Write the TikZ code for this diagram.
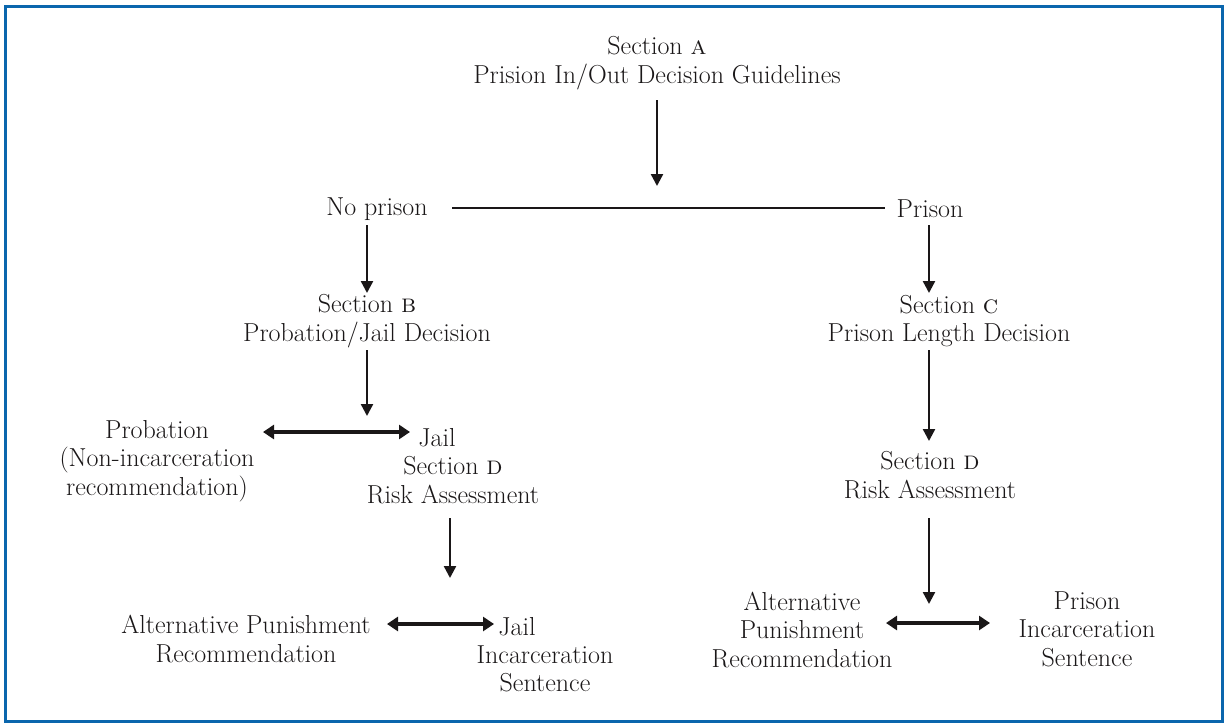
\documentclass[tikz,border=0pt]{standalone}
\usepackage{fontspec}
\usetikzlibrary{arrows.meta}
\definecolor{frameblue}{HTML}{0A66AD}
\definecolor{ink}{HTML}{1A1718}
\tikzset{
  lbl/.style={align=center, inner sep=0pt, text=ink, font=\fontsize{26}{28.5}\selectfont},
  down/.style={draw=ink, line width=2.4pt, -{Triangle[width=12pt,length=12pt]}},
  both/.style={draw=ink, line width=3.8pt, {Triangle[width=14pt,length=11pt]}-{Triangle[width=14pt,length=11pt]}},
  thin/.style={draw=ink, line width=1.3pt}
}
\begin{document}
\begin{tikzpicture}[x=1pt,y=-1pt]
\useasboundingbox (0,0) rectangle (1225,724);
\draw[frameblue, line width=3pt] (5.5,6.5) rectangle (1222.5,721.5);

% top
\node[lbl] (secA) at (657,63) {Section \textsc{a}\\Prision In/Out Decision Guidelines};
\coordinate (aTop) at (657,100);
\coordinate (aTip) at (657,186);
\draw[down] (aTop) -- (aTip);

\node[lbl] (noprison) at (377,209) {No prison};
\node[lbl] (prison) at (930,209) {Prison};
\coordinate (hL) at (452,208);
\coordinate (hR) at (885,208);
\draw[thin] (hL) -- (hR);

% left branch
\node[lbl] (secB) at (367,321) {Section \textsc{b}\\Probation/Jail Decision};
\coordinate (l1a) at (367,225);
\coordinate (l1b) at (367,293);
\draw[down] (l1a) -- (l1b);
\coordinate (l2a) at (367,350);
\coordinate (l2b) at (367,416);
\draw[down] (l2a) -- (l2b);

\node[lbl] (prob) at (157,461) {Probation\\(Non-incarceration\\recommendation)};
\node[lbl] (jail1) at (437,438) {Jail};
\node[lbl] (secDl) at (453,480) {Section \textsc{d}\\Risk Assessment};
\coordinate (d1L) at (263,432);
\coordinate (d1R) at (410,432);
\draw[both] (d1L) -- (d1R);

\coordinate (l3a) at (450,518);
\coordinate (l3b) at (450,578);
\draw[down] (l3a) -- (l3b);

\node[lbl] (altL) at (246,639) {Alternative Punishment\\Recommendation};
\node[lbl] (jail2) at (517,627) {Jail};
\node[lbl] (jailInc) at (545,669) {Incarceration\\Sentence};
\coordinate (d2L) at (387,624);
\coordinate (d2R) at (494,624);
\draw[both] (d2L) -- (d2R);

% right branch
\coordinate (r1a) at (929,225);
\coordinate (r1b) at (929,293);
\draw[down] (r1a) -- (r1b);
\node[lbl] (secC) at (949,321) {Section \textsc{c}\\Prison Length Decision};
\coordinate (r2a) at (929,350);
\coordinate (r2b) at (929,441);
\draw[down] (r2a) -- (r2b);
\node[lbl] (secDr) at (930,475) {Section \textsc{d}\\Risk Assessment};
\coordinate (r3a) at (929,518);
\coordinate (r3b) at (929,604);
\draw[down] (r3a) -- (r3b);

\node[lbl] (altR) at (802,630) {Alternative\\Punishment\\Recommendation};
\node[lbl] (prisInc) at (1087,629) {Prison\\Incarceration\\Sentence};
\coordinate (d3L) at (886,623);
\coordinate (d3R) at (990,623);
\draw[both] (d3L) -- (d3R);
\end{tikzpicture}
\end{document}
